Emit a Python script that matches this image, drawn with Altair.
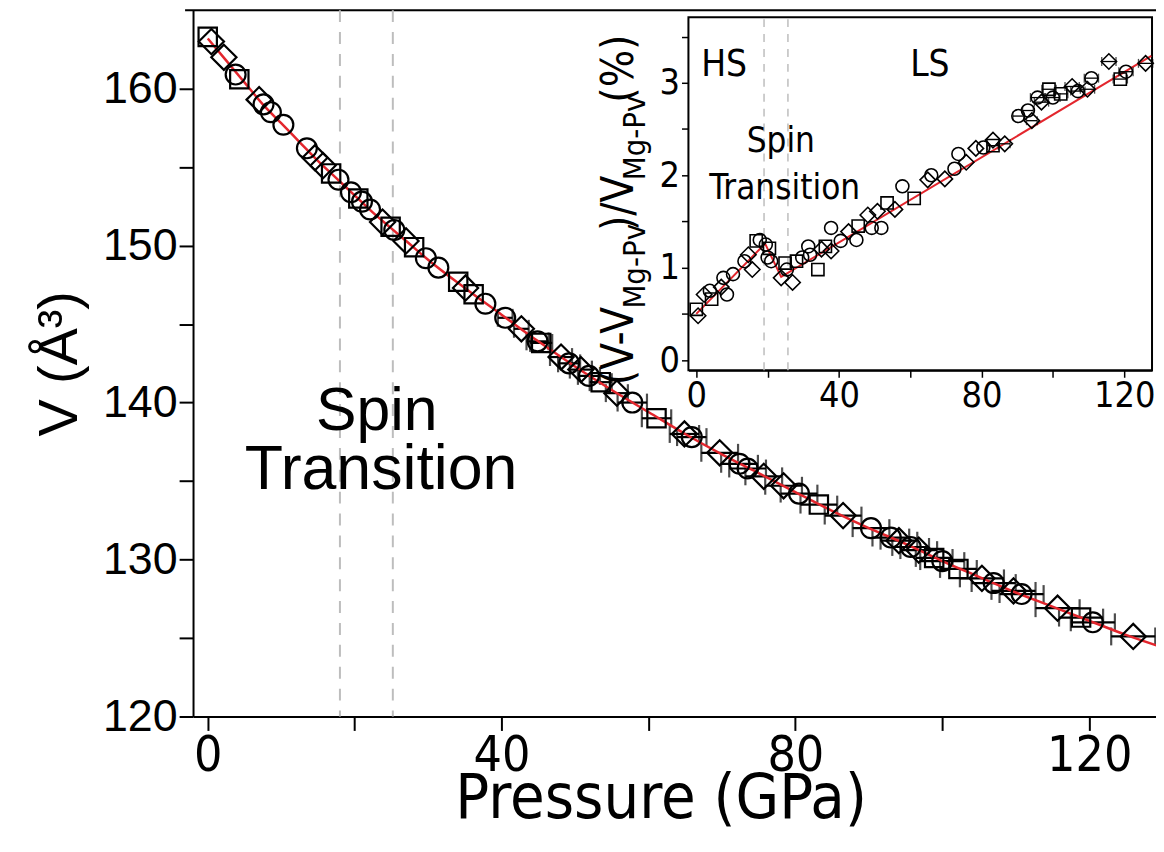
import altair as alt
import pandas as pd

NARROW = "DejaVu Sans Condensed, Liberation Sans Narrow, Liberation Sans, sans-serif"
REG = "Liberation Sans, Arial, sans-serif"

# ---------------- main panel data: pressure (GPa), volume (A^3), x error (GPa)
sq_p = [0.0, 4.3, 16.8, 20.5, 24.9, 28.1, 34.1, 36.2, 45.4, 53.5, 61.1, 83.2, 98.9, 102.2, 118.9]
sq_v = [163.3, 160.6, 154.6, 153.0, 151.2, 149.9, 147.7, 146.9, 143.8, 141.3, 139.0, 133.5, 130.1, 129.4, 126.3]
sq_e = [0, 0, 0, 0, 0, 0, 0, 0, 1.5, 1.5, 2.0, 2.5, 2.5, 2.5, 3.0]

ci_p = [3.8, 7.6, 8.6, 10.3, 13.5, 17.8, 19.5, 21.0, 22.1, 25.4, 29.7, 31.4, 37.8, 40.5, 44.9,
        49.2, 51.9, 57.8, 65.9, 72.4, 73.5, 80.5, 90.3, 93.0, 95.7, 100.0, 107.0, 110.8, 120.5]
ci_v = [160.9, 159.0, 158.5, 157.7, 156.2, 154.2, 153.4, 152.8, 152.3, 151.0, 149.2, 148.6, 146.3, 145.4, 143.9,
        142.5, 141.7, 140.0, 137.8, 136.1, 135.8, 134.2, 132.0, 131.4, 130.8, 129.9, 128.5, 127.8, 126.0]
ci_e = [0, 0, 0, 0, 0, 0, 0, 0, 0, 0, 0, 0, 0, 1.0, 1.5,
        1.5, 1.5, 2.0, 2.0, 2.5, 2.5, 2.5, 2.5, 2.5, 2.5, 3.0, 3.0, 3.0, 3.0]

di_p = [0.5, 2.2, 7.0, 14.6, 15.7, 23.8, 27.0, 35.1, 42.7, 48.1, 50.8, 55.7, 64.9, 69.7, 75.7,
        78.4, 86.5, 94.1, 96.8, 105.4, 109.7, 115.7, 126.0]
di_v = [163.0, 162.0, 159.3, 155.6, 155.1, 151.5, 150.3, 147.3, 144.7, 142.9, 142.1, 140.6, 138.0, 136.8, 135.3,
        134.7, 132.8, 131.2, 130.6, 128.8, 128.0, 126.9, 125.1]
di_e = [0, 0, 0, 0, 0, 0, 0, 0, 1.0, 1.5, 1.5, 1.5, 2.0, 2.5, 2.5,
        2.5, 2.5, 2.5, 2.5, 3.0, 3.0, 3.0, 3.0]

fit_p = [0, 2.5, 5, 7.5, 10, 12.5, 15, 17.5, 20, 22.5, 25, 27.5, 30, 35, 40, 45, 50, 55, 60, 65, 70,
         75, 80, 85, 90, 95, 100, 105, 110, 115, 120, 125, 130]
fit_v = [163.2, 161.8, 160.4, 159.0, 157.8, 156.6, 155.4, 154.3, 153.2, 152.1, 151.1, 150.1, 149.1,
         147.3, 145.6, 143.9, 142.3, 140.8, 139.4, 138.0, 136.7, 135.5, 134.3, 133.1, 132.0, 131.0,
         129.9, 128.9, 127.9, 127.0, 126.1, 125.2, 124.4]

spin_bounds_main = [18.0, 25.2]

# ---------------- inset data: pressure (GPa), (V - V_MgPv)/V_MgPv (%), x error (GPa)
isq_p = [0.0, 4.3, 16.8, 20.5, 24.9, 28.1, 34.1, 36.2, 45.4, 53.5, 61.1, 83.2, 98.9, 102.2, 118.9]
isq_d = [0.55, 0.66, 1.29, 1.21, 1.05, 1.07, 0.98, 1.23, 1.45, 1.70, 1.75, 2.32, 2.93, 2.88, 3.04]
isq_e = [0, 0, 0, 0, 0, 0, 0, 0, 0, 0, 0, 1.5, 2.0, 2.0, 2.0]

ici_p = [3.8, 7.6, 8.6, 10.3, 13.5, 17.8, 19.5, 20.0, 21.0, 25.4, 29.7, 31.4, 31.9, 37.8, 40.5, 44.9,
         49.2, 51.9, 57.8, 65.9, 72.4, 73.5, 80.5, 90.3, 93.0, 95.7, 100.0, 107.0, 110.8, 120.5]
ici_d = [0.75, 0.89, 0.71, 0.93, 1.07, 1.30, 1.25, 1.11, 1.07, 0.98, 1.11, 1.23, 1.14, 1.43, 1.29, 1.30,
         1.43, 1.43, 1.88, 2.00, 2.07, 2.23, 2.30, 2.64, 2.70, 2.84, 2.84, 2.91, 3.05, 3.12]
ici_e = [0, 0, 0, 0, 0, 0, 0, 0, 0, 0, 0, 0, 0, 0, 0, 0,
         0, 0, 0, 0, 0, 0, 0, 1.5, 1.5, 2.0, 2.0, 2.0, 2.0, 2.0]

idi_p = [0.5, 2.2, 7.0, 14.6, 15.7, 23.8, 27.0, 35.1, 37.8, 42.7, 48.1, 50.8, 55.7, 64.9, 69.7, 75.7,
         78.4, 83.2, 86.5, 94.1, 96.8, 105.4, 109.7, 115.7, 126.0]
idi_d = [0.48, 0.71, 0.79, 1.14, 0.98, 0.89, 0.84, 1.20, 1.18, 1.39, 1.57, 1.61, 1.63, 1.95, 1.96, 2.14,
         2.29, 2.38, 2.34, 2.59, 2.79, 2.96, 2.93, 3.23, 3.21]
idi_e = [0, 0, 0, 0, 0, 0, 0, 0, 0, 0, 0, 0, 0, 0, 0, 0,
         0, 0, 1.5, 1.5, 2.0, 2.0, 2.0, 2.0, 2.0]

ifit_p = [0.0, 19.3, 23.8, 127.6]
ifit_d = [0.50, 1.26, 0.90, 3.29]

spin_bounds_inset = [19.0, 25.7]

# ---------------- frames (pixel geometry of the plot areas)
MAIN_W, MAIN_H = 968, 710
X_MAIN = [-2, 129.1]
Y_MAIN = [120, 165]
X_IN = [-2.2, 127.8]
Y_IN = [-0.11, 3.71]
IN_XR = [498, 964]
IN_YR = [362, 7]

def pts(p, v, e):
    return pd.DataFrame({"P": p, "V": v, "E": e})

sq = pts(sq_p, sq_v, sq_e)
ci = pts(ci_p, ci_v, ci_e)
di = pts(di_p, di_v, di_e)
allpts = pd.concat([sq, ci, di])
fit = pd.DataFrame({"P": fit_p, "V": fit_v})

xs = alt.Scale(domain=X_MAIN, nice=False, zero=False)
ys = alt.Scale(domain=Y_MAIN, nice=False, zero=False)

xaxis = alt.Axis(values=[0, 20, 40, 60, 80, 100, 120],
                 labelExpr="datum.value % 40 == 0 ? datum.label : ''",
                 grid=False, tickSize=14, tickWidth=2, domainWidth=2, domainColor="black",
                 tickColor="black", labelColor="black", labelFont=NARROW, labelFontSize=50,
                 labelPadding=0, title="Pressure (GPa)", titleFont=NARROW, titleFontSize=63,
                 titleFontWeight="normal", titleColor="black", titlePadding=-12, titleX=470)
yaxis = alt.Axis(values=[120, 125, 130, 135, 140, 145, 150, 155, 160],
                 labelExpr="datum.value % 10 == 0 ? datum.label : ''",
                 grid=False, tickSize=14, tickWidth=2, domainWidth=2, domainColor="black",
                 tickColor="black", labelColor="black", labelFont=REG, labelFontSize=45,
                 labelPadding=2, title="V (Å³)", titleFont=REG, titleFontSize=56,
                 titleFontWeight="normal", titleColor="black", titlePadding=14)

base_x = alt.X("P:Q", scale=xs, axis=xaxis)
base_y = alt.Y("V:Q", scale=ys, axis=yaxis)

one = pd.DataFrame({"a": [0]})

top_rule = alt.Chart(one).mark_rule(color="black", strokeWidth=2).encode(
    x=alt.value(-8), x2=alt.value(MAIN_W), y=alt.value(0))

dash_main = alt.Chart(pd.DataFrame({"P": spin_bounds_main})).mark_rule(
    color="#bdbdbd", strokeWidth=2, strokeDash=[12, 10]).encode(x=alt.X("P:Q", scale=xs, axis=xaxis))

def errbars(df, xsc, ysc, xax, yax, ycol, cap, width):
    f = alt.Chart(df).transform_filter("datum.E > 0").transform_calculate(
        lo="datum.P - datum.E", hi="datum.P + datum.E")
    line = f.mark_rule(color="black", strokeWidth=width).encode(
        x=alt.X("lo:Q", scale=xsc, axis=xax), x2="hi:Q", y=alt.Y(ycol + ":Q", scale=ysc, axis=yax))
    lo = f.mark_tick(color="black", thickness=width, size=cap, orient="vertical").encode(
        x=alt.X("lo:Q", scale=xsc, axis=xax), y=alt.Y(ycol + ":Q", scale=ysc, axis=yax))
    hi = f.mark_tick(color="black", thickness=width, size=cap, orient="vertical").encode(
        x=alt.X("hi:Q", scale=xsc, axis=xax), y=alt.Y(ycol + ":Q", scale=ysc, axis=yax))
    return [line, lo, hi]

def sym(df, shape, size):
    return alt.Chart(df).mark_point(shape=shape, size=size, filled=False, stroke="black",
                                    strokeWidth=2.2, opacity=1).encode(x=base_x, y=base_y)

fit_line = alt.Chart(fit).mark_line(color="#e3262d", strokeWidth=2.5, interpolate="monotone").encode(
    x=base_x, y=base_y)

txt_spin = alt.Chart(one).mark_text(
    text="Spin", font=REG, fontSize=61, color="black", align="center", baseline="middle").encode(
    x=alt.datum(23.0, scale=xs), y=alt.datum(139.4, scale=ys))
txt_trans = alt.Chart(one).mark_text(
    text="Transition", font=REG, fontSize=63, color="black", align="center", baseline="middle").encode(
    x=alt.datum(23.6, scale=xs), y=alt.datum(135.7, scale=ys))

main = alt.layer(top_rule, dash_main, *errbars(allpts, xs, ys, xaxis, yaxis, "V", 18, 2.2), fit_line,
                 sym(sq, "square", 340), sym(ci, "circle", 400), sym(di, "diamond", 640),
                 txt_spin, txt_trans)

# ---------------- inset
ixs = alt.Scale(domain=X_IN, range=IN_XR, nice=False, zero=False)
iys = alt.Scale(domain=Y_IN, range=IN_YR, nice=False, zero=False)
ixaxis = alt.Axis(orient="bottom", offset=-(MAIN_H - IN_YR[0]), values=[0, 20, 40, 60, 80, 100, 120],
                  labelExpr="datum.value % 40 == 0 ? datum.label : ''",
                  grid=False, tickSize=7, tickWidth=1.5, domainWidth=2, domainColor="black",
                  tickColor="black", labelColor="black", labelFont=NARROW, labelFontSize=36,
                  labelPadding=1, title=None)
iyaxis = alt.Axis(orient="left", offset=-IN_XR[0], values=[0, 0.5, 1, 1.5, 2, 2.5, 3, 3.5],
                  labelExpr="datum.value % 1 == 0 ? format(datum.value, 'd') : ''",
                  grid=False, tickSize=7, tickWidth=1.5, domainWidth=2, domainColor="black",
                  tickColor="black", labelColor="black", labelFont=NARROW, labelFontSize=36,
                  labelPadding=2, title=None)
ix = alt.X("P:Q", scale=ixs, axis=ixaxis)
iy = alt.Y("D:Q", scale=iys, axis=iyaxis)

frame = alt.Chart(one).mark_rect(fill="white", stroke="black", strokeWidth=2).encode(
    x=alt.datum(X_IN[0], scale=ixs, axis=ixaxis), x2=alt.datum(X_IN[1]),
    y=alt.datum(Y_IN[0], scale=iys, axis=iyaxis), y2=alt.datum(Y_IN[1]))

dash_in = alt.Chart(pd.DataFrame({"P": spin_bounds_inset})).transform_calculate(
    lo=str(Y_IN[0]), hi=str(Y_IN[1])).mark_rule(
    color="#bdbdbd", strokeWidth=1.5, strokeDash=[8, 7]).encode(
    x=ix, y=alt.Y("lo:Q", scale=iys, axis=iyaxis), y2="hi:Q")

def idf(p, d, e):
    return pd.DataFrame({"P": p, "D": d, "E": e})

isq = idf(isq_p, isq_d, isq_e)
ici = idf(ici_p, ici_d, ici_e)
idi = idf(idi_p, idi_d, idi_e)
iall = pd.concat([isq, ici, idi])

def isym(df, shape, size):
    return alt.Chart(df).mark_point(shape=shape, size=size, filled=False, stroke="black",
                                    strokeWidth=1.6, opacity=1).encode(x=ix, y=iy)

ifit = alt.Chart(pd.DataFrame({"P": ifit_p, "D": ifit_d})).mark_line(color="#e3262d", strokeWidth=2).encode(
    x=ix, y=iy)

def itext(t, p, d, size):
    return alt.Chart(one).mark_text(
        text=t, font=NARROW, fontSize=size, color="black", align="center", baseline="middle").encode(
        x=alt.datum(p, scale=ixs, axis=ixaxis), y=alt.datum(d, scale=iys, axis=iyaxis))

# inset y title built from pieces (with subscripts), rotated to read upward
def rtext(t, x, y, size):
    return alt.Chart(one).mark_text(
        text=t, font=NARROW, fontSize=size, color="black", align="left", baseline="alphabetic",
        angle=270).encode(x=alt.value(x), y=alt.value(y))

TX = 442
BIG, SUB = 44, 31
title_pieces = [rtext("(V-V", TX, 377, BIG), rtext("Mg-Pv", TX + 12, 300, SUB),
                rtext(")/V", TX, 222, BIG), rtext("Mg-Pv", TX + 12, 171, SUB),
                rtext(" (%)", TX, 93, BIG)]

inset = alt.layer(frame, dash_in, ifit, *errbars(iall, ixs, iys, ixaxis, iyaxis, "D", 9, 1.3),
                  isym(isq, "square", 150), isym(ici, "circle", 170),
                  isym(idi, "diamond", 240),
                  itext("HS", 7.8, 3.19, 37), itext("LS", 65.5, 3.19, 37),
                  itext("Spin", 23.7, 2.37, 35), itext("Transition", 24.8, 1.86, 35),
                  *title_pieces)

chart = alt.layer(main, inset).resolve_scale(x="independent", y="independent").properties(
    width=MAIN_W, height=MAIN_H, autosize=alt.AutoSizeParams(type="none"),
    padding={"left": 186, "top": 0, "right": 0, "bottom": 128}
).configure_view(stroke=None).configure(background="white")

chart.save("out.html", embed_options={"renderer": "svg", "actions": False})
